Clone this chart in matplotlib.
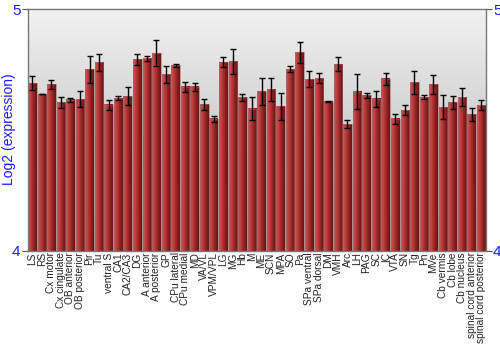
import numpy as np
import matplotlib
matplotlib.use("Agg")
import matplotlib.pyplot as plt
from matplotlib.colors import LinearSegmentedColormap

plt.rcParams["font.family"] = ["Liberation Sans", "DejaVu Sans"]

regions = ["LS", "RS", "Cx motor", "Cx cingulate", "OB anterior", "OB posterior",
           "Pir", "Tu", "ventral S", "CA1", "CA2/CA3", "DG", "A anterior",
           "A posterior", "GP", "CPu lateral", "CPu medial", "MD", "VA/VL",
           "VPM/VPL", "LG", "MG", "Hb", "M", "ME", "SCN", "MPA", "SO", "Pa",
           "SPa ventral", "SPa dorsal", "DM", "VMH", "Arc", "LH", "PAG", "SC",
           "IC", "VTA", "SN", "Tg", "Pn", "MVe", "Cb vermis", "Cb lobe",
           "Cb nucleus", "spinal cord anterior", "spinal cord posterior"]

expression = [4.694, 4.649, 4.689, 4.614, 4.625, 4.628, 4.751, 4.781, 4.605,
              4.632, 4.640, 4.792, 4.796, 4.818, 4.730, 4.767, 4.679, 4.679,
              4.606, 4.547, 4.780, 4.785, 4.636, 4.589, 4.661, 4.669, 4.598,
              4.751, 4.822, 4.711, 4.714, 4.617, 4.773, 4.524, 4.658, 4.643,
              4.629, 4.712, 4.547, 4.583, 4.697, 4.636, 4.690, 4.594, 4.614,
              4.636, 4.566, 4.603]

errors = [0.030, 0.002, 0.019, 0.024, 0.009, 0.032, 0.057, 0.035, 0.021,
          0.008, 0.037, 0.022, 0.010, 0.055, 0.036, 0.008, 0.021, 0.017,
          0.024, 0.012, 0.021, 0.052, 0.015, 0.049, 0.056, 0.048, 0.055,
          0.012, 0.043, 0.035, 0.020, 0.002, 0.031, 0.016, 0.072, 0.012,
          0.033, 0.024, 0.021, 0.019, 0.046, 0.009, 0.039, 0.050, 0.026,
          0.038, 0.027, 0.022]

fig = plt.figure(figsize=(5, 3.5), dpi=100)
ax = fig.add_axes([0.055, 0.283, 0.917, 0.691])

x = np.arange(len(regions))
ax.set_xlim(-0.5, len(regions) - 0.5)
ax.set_ylim(4, 5)

# background gradient (light top -> grey bottom)
bg = LinearSegmentedColormap.from_list("bg", ["#b8b8b8", "#cfcfcf", "#f2f2f2"])
grad = np.linspace(0, 1, 256).reshape(-1, 1)
ax.imshow(grad, cmap=bg, aspect="auto", extent=(0, 1, 0, 1),
          transform=ax.transAxes, origin="lower", zorder=0)

bars = ax.bar(x, np.array(expression) - 4, bottom=4, width=0.9,
              color="none", edgecolor="#9a6a6a", linewidth=0.4, zorder=2)

# horizontal gradient on each bar
red = LinearSegmentedColormap.from_list("red", ["#cf5656", "#b83c3c", "#8e2222", "#6a1414"])
hgrad = np.linspace(0, 1, 64).reshape(1, -1)
for b in bars:
    x0, w = b.get_x(), b.get_width()
    ax.imshow(hgrad, cmap=red, aspect="auto",
              extent=(x0, x0 + w, 4, 4 + b.get_height()), zorder=1)

ax.errorbar(x, expression, yerr=errors, fmt="none", ecolor="black",
            elinewidth=1, capsize=2, capthick=1, zorder=3)

ax.set_yticks([4, 5])
ax.tick_params(axis="y", colors="#1a1aff", labelsize=11, length=4,
               right=True, labelright=True, width=0.8, pad=1)
ax.tick_params(axis="y", color="#555555")
ax.set_xticks(x)
ax.set_xticklabels(regions, rotation=90, fontsize=7.3, color="#222222")
ax.tick_params(axis="x", length=0, pad=1)
fig.text(0.018, 0.63, "Log2 (expression)", rotation=90, color="#1a1aff",
         fontsize=10, ha="center", va="center")

for s in ax.spines.values():
    s.set_color("#777777")
    s.set_linewidth(1)

fig.savefig("out.png", dpi=100)
